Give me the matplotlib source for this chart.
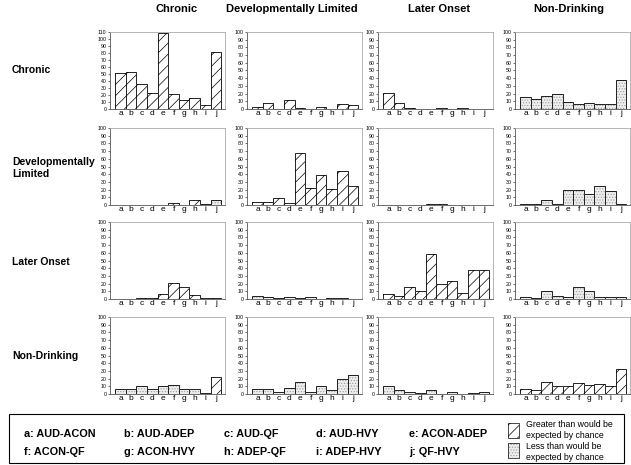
import matplotlib
matplotlib.use('Agg')
import matplotlib.pyplot as plt
from matplotlib.patches import Rectangle

plt.rcParams['font.family'] = ['Liberation Sans', 'DejaVu Sans']
plt.rcParams['hatch.linewidth'] = 0.5

# 类别 a..j
cats = list('abcdefghij')
row_names = ['Chronic', 'Developmentally\nLimited', 'Later Onset', 'Non-Drinking']
col_names = ['Chronic', 'Developmentally Limited', 'Later Onset', 'Non-Drinking']

pair_labels = ['a: AUD-ACON', 'b: AUD-ADEP', 'c: AUD-QF', 'd: AUD-HVY', 'e: ACON-ADEP',
               'f: ACON-QF', 'g: ACON-HVY', 'h: ADEP-QF', 'i: ADEP-HVY', 'j: QF-HVY']

# 每行 4 个面板的值 (列: Chronic, Dev Limited, Later Onset, Non-Drinking)
vals_chronic = [
    [52, 53, 36, 23, 108, 21, 13, 16, 6, 82],
    [3, 8, 0, 12, 1, 0.5, 2, 0, 6, 5],
    [21, 8, 1, 0.5, 0, 1, 0, 1, 0.5, 0],
    [15, 13, 17, 20, 9, 6, 8, 7, 7, 38],
]
vals_devlim = [
    [0, 0, 0, 0, 0.5, 3, 0.5, 6, 1, 7],
    [4, 4, 9, 3, 67, 22, 39, 21, 44, 25],
    [0, 0.5, 0.5, 0.5, 1, 1.5, 0, 0, 0.5, 0.5],
    [1, 1, 6, 1, 20, 19, 14, 25, 18, 1],
]
vals_later = [
    [0.5, 0.5, 1, 1.5, 6, 21, 16, 5, 1, 1],
    [4, 2, 1, 3, 1, 2, 0.5, 1.5, 1, 0.5],
    [6, 4, 15, 10, 59, 20, 24, 8, 38, 38],
    [3, 1, 10, 4, 3, 15, 11, 3, 3, 2],
]
vals_nondrink = [
    [7, 6, 10, 7, 11, 12, 6, 7, 1, 22],
    [6, 7, 3, 8, 16, 2, 11, 5, 19, 25],
    [10, 5, 3, 1, 5, 0.5, 3, 0, 1, 3],
    [7, 5, 16, 10, 11, 14, 12, 13, 11, 32],
]
# G = 高于随机预期, L = 低于随机预期
sig_chronic = ['GGGGGGGGGG', 'GGGGGGGGGG', 'GGGGGGGGGG', 'LLLLLLLLLL']
sig_devlim = ['LLLLLGLGLL', 'GGGGGGGGGG', 'GGGGGGGGGG', 'LLLLLLLLLL']
sig_later = ['GGGGGGGGGG', 'LLLLLLLLLL', 'GGGGGGGGGG', 'LLLLLLLLLL']
sig_nondrink = ['LLLLLLLLLG', 'LLLLLLLLLL', 'LLLLLLLLLL', 'GGGGGGGGGG']

all_vals = [vals_chronic, vals_devlim, vals_later, vals_nondrink]
all_sig = [sig_chronic, sig_devlim, sig_later, sig_nondrink]

W, H = 631, 465
fig = plt.figure(figsize=(W / 100, H / 100), dpi=100)

col_left = [110, 247, 378, 515]
row_top = [32, 128, 222, 317]
ax_w, ax_h = 115, 77

# 填充样式: (底色, 花纹, 花纹颜色)
style = {
    'G': ('white', '///', 'black'),
    'L': ('#eeeeee', '......', '#9a9a9a'),
}


def draw_bar(ax, x, h, code):
    fc, hatch, hc = style[code]
    # 先画花纹层, 再画黑色边框
    ax.bar(x, h, width=1.0, facecolor=fc, hatch=hatch, edgecolor=hc, linewidth=0)
    ax.bar(x, h, width=1.0, fill=False, edgecolor='black', linewidth=0.6)


for r in range(4):
    for c in range(4):
        ax = fig.add_axes([col_left[c] / W, 1 - (row_top[r] + ax_h) / H, ax_w / W, ax_h / H])
        v = all_vals[r][c]
        s = all_sig[r][c]
        for i in range(len(cats)):
            draw_bar(ax, i, v[i], s[i])
        top = 110 if (r == 0 and c == 0) else 100
        ax.set_ylim(0, top)
        ax.set_yticks(range(0, top + 1, 10))
        ax.set_xlim(-1.0, 9.85)
        ax.set_xticks(range(len(cats)))
        ax.set_xticklabels(cats, fontsize=6)
        ax.tick_params(axis='y', labelsize=3.8, length=1.5, width=0.4, pad=1)
        ax.tick_params(axis='x', length=0, pad=0.5)
        for sp in ['top', 'right']:
            ax.spines[sp].set_color('#aaaaaa')
            ax.spines[sp].set_linewidth(0.6)
        ax.spines['left'].set_color('#555555')
        ax.spines['left'].set_linewidth(0.6)
        ax.spines['bottom'].set_color('#555555')
        ax.spines['bottom'].set_linewidth(0.6)

# 列标题
title_x = [177, 292, 439, 569]
for c in range(4):
    fig.text(title_x[c] / W, 1 - 9 / H, col_names[c], ha='center', va='center',
             fontsize=8, fontweight='bold')

# 行标题
row_y = [70, 168, 262, 356]
for r in range(4):
    fig.text(12 / W, 1 - row_y[r] / H, row_names[r], ha='left', va='center',
             fontsize=7.5, fontweight='bold', linespacing=1.3)

# 图例框
lax = fig.add_axes([0, 0, 1, 1], zorder=-1)
lax.set_xlim(0, W)
lax.set_ylim(H, 0)
lax.axis('off')
lax.add_patch(Rectangle((9, 414), 615, 49, fill=False, edgecolor='black', linewidth=0.8))

leg_x = [24, 124, 224, 316, 409]
leg_y = [434, 452]
for k, lab in enumerate(pair_labels):
    lax.text(leg_x[k % 5], leg_y[k // 5], lab, ha='left', va='center',
             fontsize=7.8, fontweight='bold')

for yy, code in [(423, 'G'), (443, 'L')]:
    fc, hatch, hc = style[code]
    lax.add_patch(Rectangle((508, yy), 11, 15, facecolor=fc, hatch=hatch, edgecolor=hc, linewidth=0))
    lax.add_patch(Rectangle((508, yy), 11, 15, fill=False, edgecolor='black', linewidth=0.5))
lax.text(526, 424, 'Greater than would be', fontsize=6.3, va='center', ha='left')
lax.text(526, 435, 'expected by chance', fontsize=6.3, va='center', ha='left')
lax.text(526, 446, 'Less than would be', fontsize=6.3, va='center', ha='left')
lax.text(526, 457, 'expected by chance', fontsize=6.3, va='center', ha='left')

fig.savefig('out.png', dpi=100)
